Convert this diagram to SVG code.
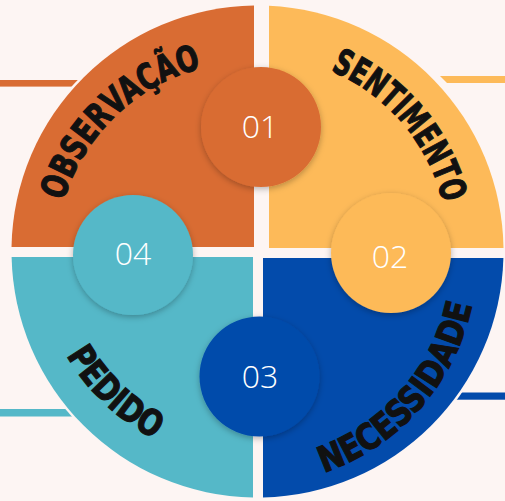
<svg xmlns="http://www.w3.org/2000/svg" width="505" height="501" viewBox="0 0 505 501">
  <defs>
    <style>
      .bg { fill: #FDF5F3; }
      .lbl { font-family: "Liberation Sans Narrow", "DejaVu Sans Condensed", "Liberation Sans", sans-serif; font-weight: bold; font-size: 36px; fill: #111; stroke: #111; stroke-width: 1.1; }
      .num { font-family: "Open Sans", "Noto Sans", sans-serif; font-weight: 300; font-size: 32px; fill: #ffffff; text-anchor: middle; dominant-baseline: central; }
      .badge { filter: url(#shadow); }
    </style>
    <filter id="shadow" x="-30%" y="-30%" width="160%" height="160%">
      <feDropShadow dx="0" dy="2" stdDeviation="3" flood-color="#000" flood-opacity="0.28"/>
    </filter>
    <path id="arc-obs" d="M63.5,201 A196,196 0 0 1 205,67.2"/>
    <path id="arc-sen" d="M330.5,70.7 A193,193 0 0 1 443.5,204.8"/>
    <path id="arc-nec" d="M323.9,472.7 A226,226 0 0 0 472.4,303.1"/>
    <path id="arc-ped" d="M66.4,355.3 A216,216 0 0 0 155.4,439.6"/>
  </defs>

  <rect class="bg" x="0" y="0" width="505" height="501"/>

  <g id="connectors">
    <rect x="0" y="80" width="100" height="6.6" fill="#D96C33"/>
    <polygon points="440,76 505,76 505,83 447,83" fill="#FDBA59"/>
    <rect x="420" y="392.5" width="85" height="7.2" fill="#034BAB"/>
    <rect x="0" y="409" width="100" height="7.5" fill="#55B8C8"/>
    <circle class="bg" cx="257.5" cy="251.5" r="248.5"/>
  </g>

  <g id="seg-observacao">
    <path d="M254,247 L254,5.5 A246,246 0 0 0 11.5,247 Z" fill="#D96C33"/>
    <text class="lbl"><textPath href="#arc-obs" textLength="200" lengthAdjust="spacingAndGlyphs">OBSERVAÇÃO</textPath></text>
  </g>
  <g id="seg-sentimento">
    <path d="M269,248 L269,5.8 A246,246 0 0 1 503.5,248 Z" fill="#FDBA59"/>
    <text class="lbl"><textPath href="#arc-sen" textLength="180" lengthAdjust="spacingAndGlyphs">SENTIMENTO</textPath></text>
  </g>
  <g id="seg-necessidade">
    <path d="M263,258 L503.4,258 A246,246 0 0 1 263,497.4 Z" fill="#034BAB"/>
    <text class="lbl"><textPath href="#arc-nec" textLength="234" lengthAdjust="spacingAndGlyphs">NECESSIDADE</textPath></text>
  </g>
  <g id="seg-pedido">
    <path d="M253,257 L253,497.5 A246,246 0 0 1 11.6,257 Z" fill="#55B8C8"/>
    <text class="lbl"><textPath href="#arc-ped" textLength="123" lengthAdjust="spacingAndGlyphs">PEDIDO</textPath></text>
  </g>

  <g id="badge-01">
    <circle class="badge" cx="261" cy="127" r="60" fill="#D96C33"/>
    <text class="num" x="260" y="125">01</text>
  </g>
  <g id="badge-02">
    <circle class="badge" cx="391" cy="253" r="60" fill="#FDBA59"/>
    <text class="num" x="390" y="255">02</text>
  </g>
  <g id="badge-03">
    <circle class="badge" cx="259.5" cy="376.5" r="60" fill="#034BAB"/>
    <text class="num" x="260" y="375">03</text>
  </g>
  <g id="badge-04">
    <circle class="badge" cx="133" cy="255" r="60" fill="#55B8C8"/>
    <text class="num" x="133" y="252">04</text>
  </g>
</svg>
